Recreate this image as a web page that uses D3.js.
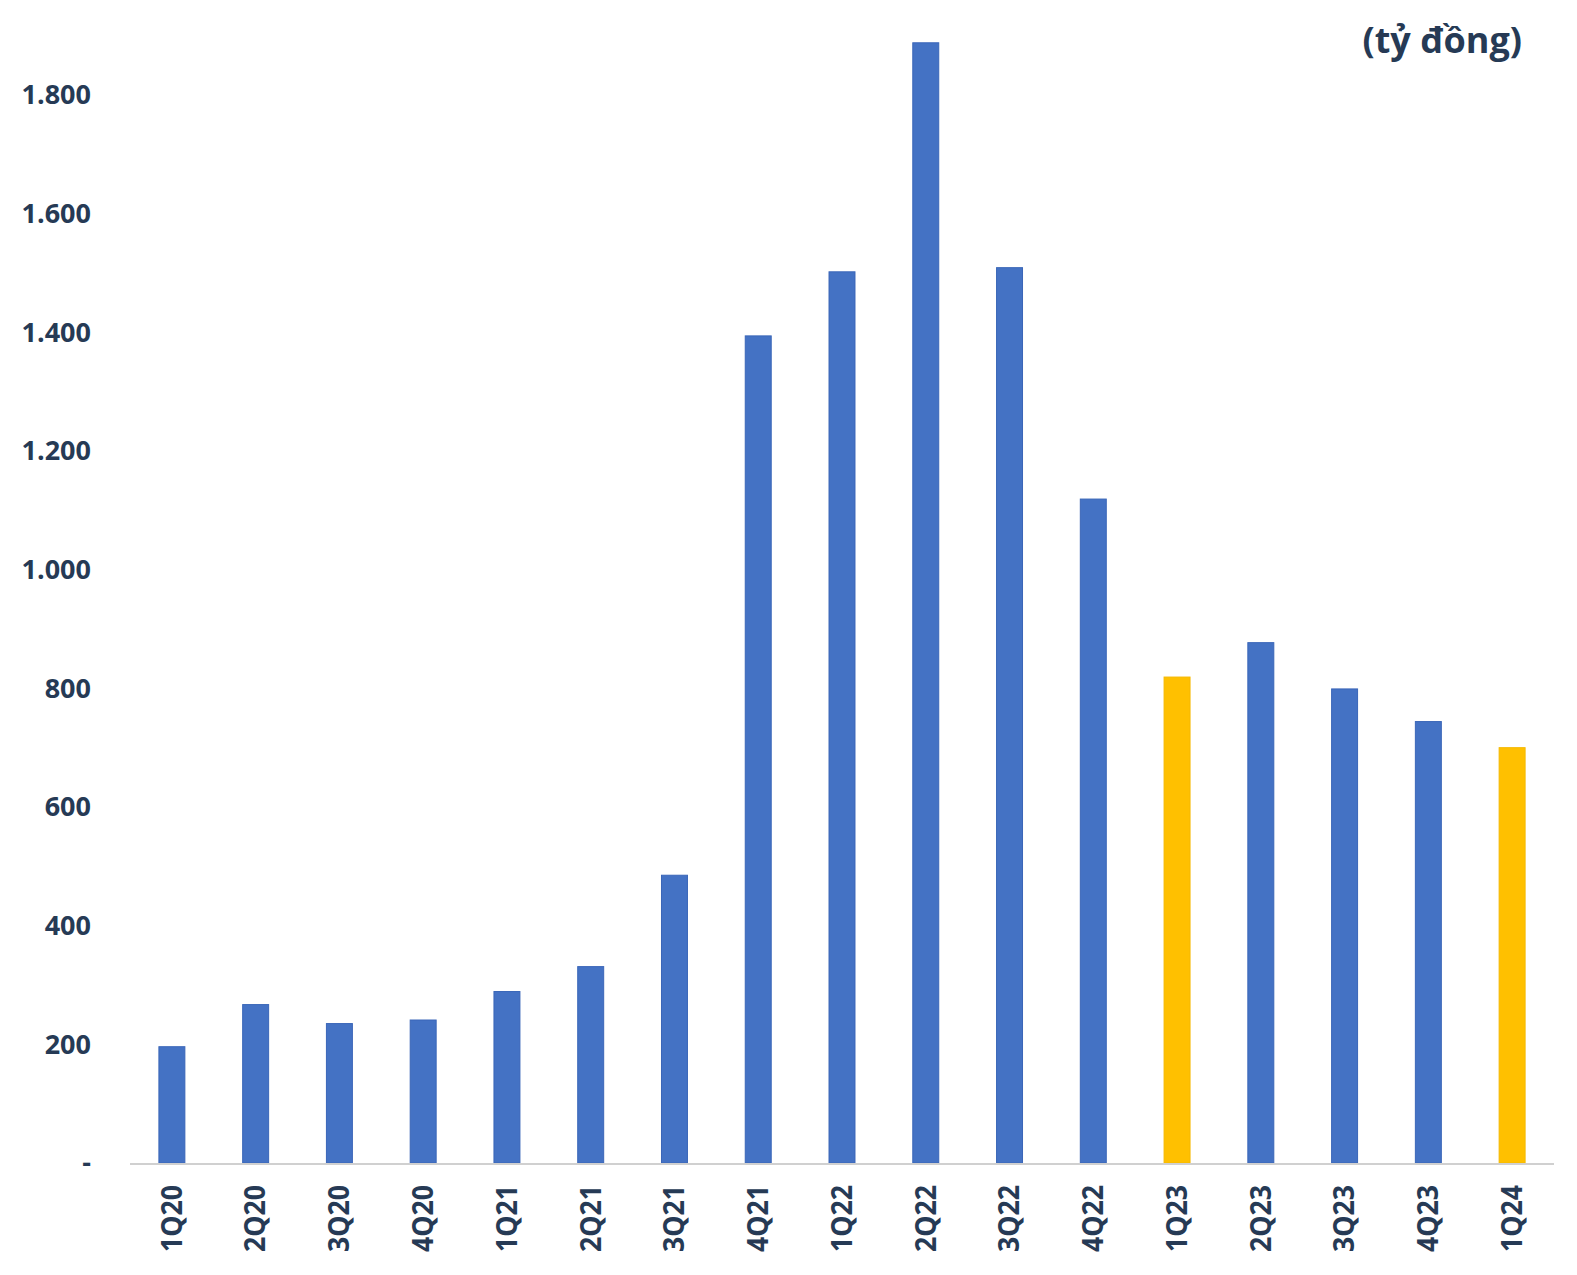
<!DOCTYPE html>
<html><head><meta charset="utf-8">
<script src="https://cdn.jsdelivr.net/npm/d3@7"></script>
<style>body{margin:0;background:#fff}svg{display:block}</style>
</head><body>
<script>
const categories = ["1Q20","2Q20","3Q20","4Q20","1Q21","2Q21","3Q21","4Q21","1Q22","2Q22","3Q22","4Q22","1Q23","2Q23","3Q23","4Q23","1Q24"];
const values = [196, 267, 235, 241, 289, 331, 485, 1394, 1502, 1888, 1509, 1119, 819, 877, 799, 744, 700];
const highlighted = ["1Q23","1Q24"];
const yTicks = [0, 200, 400, 600, 800, 1000, 1200, 1400, 1600, 1800];
const unitLabel = "(tỷ đồng)";

const W = 1577, H = 1275;
const svg = d3.select("body").append("svg").attr("width", W).attr("height", H);
const x = d3.scaleBand().domain(categories).range([130, 1554]).paddingInner(0.69).paddingOuter(0.345);
const y = d3.scaleLinear().domain([0, 1800]).range([1163, 95]);
const font = "'Open Sans', sans-serif";
const txt = "#263a55";

const fmt = v => v === 0 ? "-" : d3.format(",")(v).replace(/,/g, ".");

svg.append("g").selectAll("text").data(yTicks).join("text")
  .attr("x", 91).attr("y", d => y(d)).attr("dy", "0.35em")
  .attr("text-anchor", "end").attr("font-family", font).attr("font-weight", 700)
  .attr("font-size", 27).attr("fill", txt).text(fmt);

svg.append("g").selectAll("rect").data(categories).join("rect")
  .attr("x", d => x(d)).attr("width", x.bandwidth())
  .attr("y", (d, i) => y(values[i])).attr("height", (d, i) => y(0) - y(values[i]))
  .attr("fill", d => highlighted.includes(d) ? "#FFC000" : "#4472C4")
  .attr("stroke", d => highlighted.includes(d) ? "#F5B800" : "#3A66B8").attr("stroke-width", 1);

svg.append("line").attr("x1", 130).attr("x2", 1554).attr("y1", y(0) + 1).attr("y2", y(0) + 1)
  .attr("stroke", "#d0d0d0").attr("stroke-width", 2);

svg.append("g").selectAll("text").data(categories).join("text")
  .attr("transform", d => `translate(${x(d) + x.bandwidth() / 2},1185) rotate(-90)`)
  .attr("dy", "0.35em").attr("text-anchor", "end")
  .attr("font-family", font).attr("font-weight", 700).attr("font-size", 28)
  .attr("textLength", 67).attr("lengthAdjust", "spacingAndGlyphs")
  .attr("fill", txt).text(d => d);

svg.append("text").attr("x", 1522).attr("y", 40).attr("dy", "0.35em")
  .attr("text-anchor", "end").attr("font-family", font).attr("font-weight", 700)
  .attr("font-size", 36).attr("fill", txt).text(unitLabel);
</script>
</body></html>
